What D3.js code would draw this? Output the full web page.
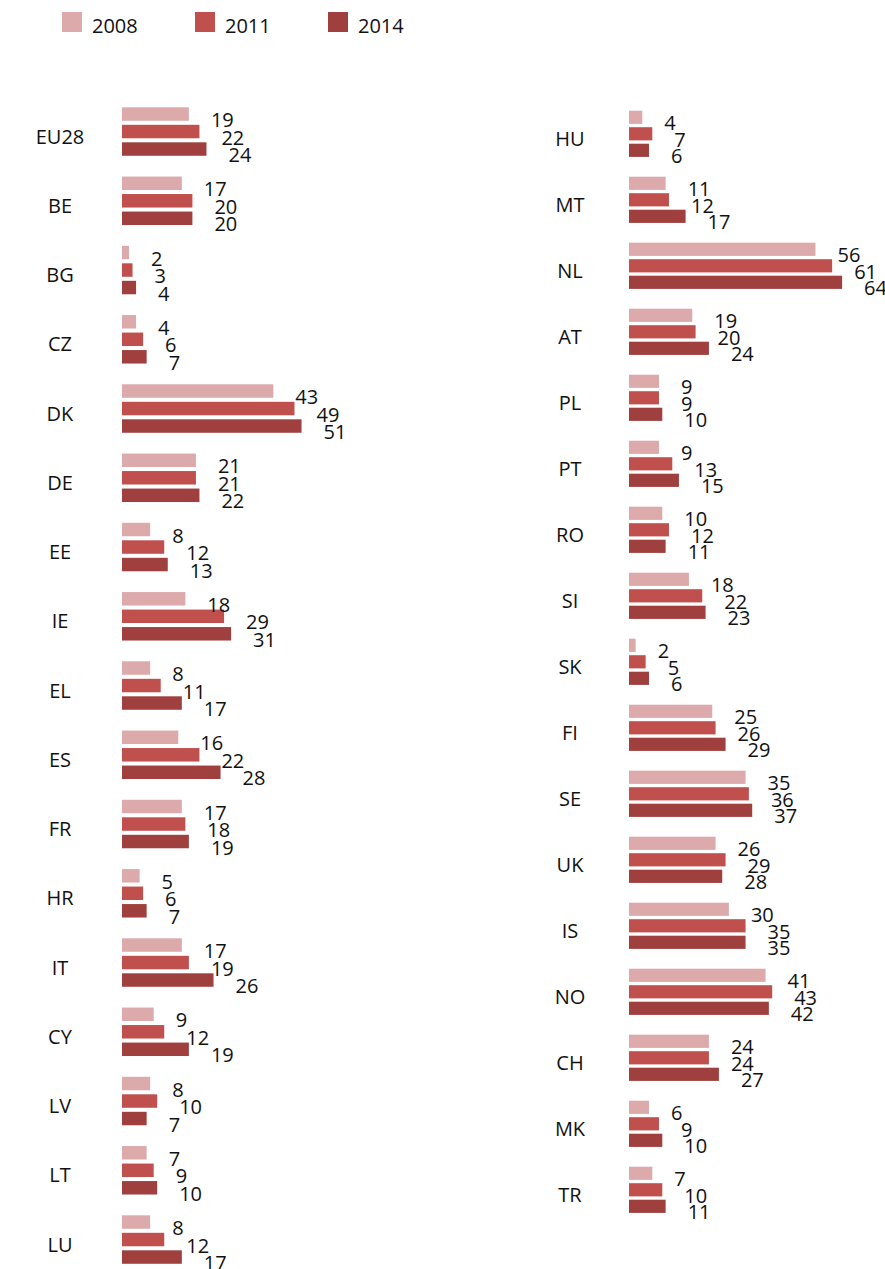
<!DOCTYPE html>
<html>
<head>
<meta charset="utf-8">
<script src="https://cdn.jsdelivr.net/npm/d3@7"></script>
<style>
  body { margin: 0; background: #fff; }
  svg text { font-family: "Open Sans", "Liberation Sans", sans-serif; fill: #111; }
</style>
</head>
<body>
<div id="chart"></div>
<script>
// series and colours
var years = ["2008", "2011", "2014"];
var colors = ["#dcaaab", "#c0504d", "#9f403e"];

// left column
var leftCats = ["EU28", "BE", "BG", "CZ", "DK", "DE", "EE", "IE", "EL", "ES", "FR", "HR", "IT", "CY", "LV", "LT", "LU"];
var left2008 = [19, 17, 2, 4, 43, 21, 8, 18, 8, 16, 17, 5, 17, 9, 8, 7, 8];
var left2011 = [22, 20, 3, 6, 49, 21, 12, 29, 11, 22, 18, 6, 19, 12, 10, 9, 12];
var left2014 = [24, 20, 4, 7, 51, 22, 13, 31, 17, 28, 19, 7, 26, 19, 7, 10, 17];

// right column
var rightCats = ["HU", "MT", "NL", "AT", "PL", "PT", "RO", "SI", "SK", "FI", "SE", "UK", "IS", "NO", "CH", "MK", "TR"];
var right2008 = [4, 11, 56, 19, 9, 9, 10, 18, 2, 25, 35, 26, 30, 41, 24, 6, 7];
var right2011 = [7, 12, 61, 20, 9, 13, 12, 22, 5, 26, 36, 29, 35, 43, 24, 9, 10];
var right2014 = [6, 17, 64, 24, 10, 15, 11, 23, 6, 29, 37, 28, 35, 42, 27, 10, 11];

var width = 885, height = 1269;

var svg = d3.select('#chart').append('svg')
    .attr('width', width)
    .attr('height', height);

// legend
var legend = svg.append('g');
years.forEach(function(y, i) {
    var lx = 62 + i * 133;
    legend.append('rect')
        .attr('x', lx).attr('y', 12)
        .attr('width', 20).attr('height', 20)
        .attr('fill', colors[i]);
    legend.append('text')
        .attr('x', lx + 30).attr('y', 33)
        .style('font-size', '20px')
        .text(y);
});

function panel(cats, series, cfg) {
    var x = d3.scaleLinear().domain([0, 60]).range([cfg.x0, cfg.x0 + cfg.unit * 60]);
    var y = d3.scaleBand()
        .domain(cats)
        .range([cfg.top, cfg.top + cfg.step * (cats.length - 0.3)])
        .paddingInner(0.3)
        .paddingOuter(0);
    var yInner = d3.scaleBand()
        .domain(years)
        .range([0, y.bandwidth()])
        .paddingInner(cfg.innerPad);

    var rows = cats.map(function(c, i) {
        return {cat: c, vals: series.map(function(s, j) { return {year: years[j], v: s[i], k: j}; })};
    });

    var g = svg.append('g');
    var grp = g.selectAll('g.grp')
        .data(rows)
        .enter()
        .append('g')
        .attr('class', 'grp')
        .attr('transform', function(d) { return 'translate(0,' + y(d.cat) + ')'; });

    grp.append('text')
        .attr('x', cfg.labelX)
        .attr('y', y.bandwidth() / 2 + 12)
        .attr('text-anchor', 'middle')
        .style('font-size', '20px')
        .text(function(d) { return d.cat; });

    grp.selectAll('rect')
        .data(function(d) { return d.vals; })
        .enter()
        .append('rect')
        .attr('x', x(0))
        .attr('y', function(d) { return yInner(d.year); })
        .attr('width', function(d) { return x(d.v) - x(0); })
        .attr('height', yInner.bandwidth())
        .attr('fill', function(d) { return colors[d.k]; });

    grp.selectAll('text.val')
        .data(function(d) { return d.vals; })
        .enter()
        .append('text')
        .attr('class', 'val')
        .attr('x', function(d) { return x(d.v) + 22; })
        .attr('y', function(d) { return yInner(d.year) + yInner.bandwidth() / 2 + 13; })
        .style('font-size', '20px')
        .text(function(d) { return d.v; });
}

panel(leftCats, [left2008, left2011, left2014],
    {x0: 122, unit: 3.52, top: 107.3, step: 69.25, innerPad: 0.23, labelX: 60});
panel(rightCats, [right2008, right2011, right2014],
    {x0: 629, unit: 3.33, top: 110.7, step: 66, innerPad: 0.2, labelX: 570});
</script>
</body>
</html>
